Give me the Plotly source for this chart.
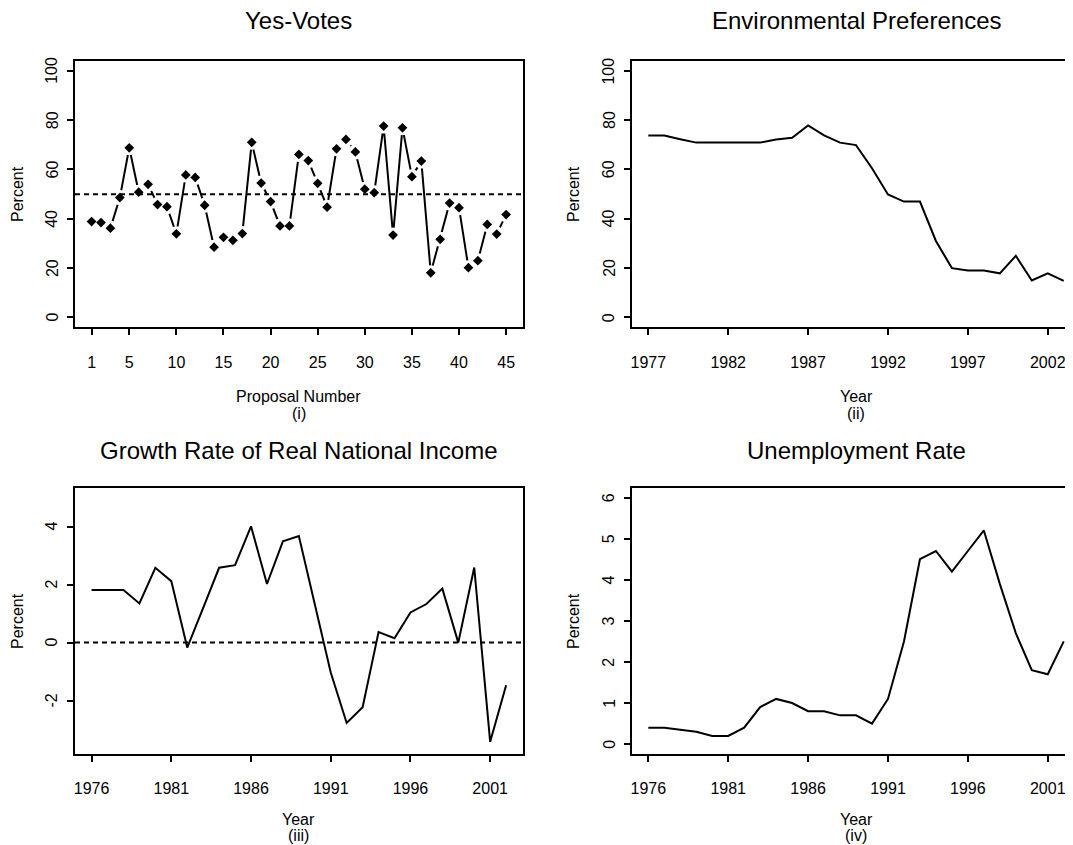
import plotly.graph_objects as go

# ---------------- data ----------------
proposal_number = list(range(1, 46))
yes_votes = [38.9, 38.5, 36.2, 48.6, 68.8, 50.8, 54.0, 45.8, 44.9, 33.9,
             57.8, 56.8, 45.5, 28.5, 32.5, 31.3, 34.0, 71.0, 54.5, 47.0,
             37.1, 37.1, 66.1, 63.6, 54.4, 44.7, 68.4, 72.2, 67.1, 52.0,
             50.6, 77.6, 33.4, 76.9, 57.1, 63.4, 18.1, 31.7, 46.4, 44.5,
             20.2, 23.0, 37.7, 33.8, 41.7]

env_years = list(range(1977, 2004))
env_pref = [73.8, 73.8, 72.3, 70.9, 70.9, 70.9, 70.9, 70.9, 72.2, 72.9,
            77.9, 73.8, 70.9, 69.9, 60.5, 49.9, 47.0, 47.0, 31.0, 20.0,
            19.0, 19.0, 17.9, 25.0, 15.0, 17.9, 14.8]

growth_years = list(range(1976, 2003))
growth = [1.81, 1.81, 1.81, 1.35, 2.58, 2.12, -0.17, 1.2, 2.58, 2.67,
          4.01, 2.02, 3.49, 3.67, 1.3, -1.03, -2.77, -2.23, 0.36, 0.15,
          1.04, 1.33, 1.86, 0.0, 2.59, -3.42, -1.47]

unemp_years = list(range(1976, 2003))
unemp = [0.4, 0.4, 0.35, 0.3, 0.2, 0.2, 0.4, 0.9, 1.1, 1.0,
         0.8, 0.8, 0.7, 0.7, 0.5, 1.1, 2.5, 4.5, 4.7, 4.2,
         4.7, 5.2, 3.9, 2.7, 1.8, 1.7, 2.5]

x1_ticks = [1, 5, 10, 15, 20, 25, 30, 35, 40, 45]
x2_ticks = [1977, 1982, 1987, 1992, 1997, 2002]
x34_ticks = [1976, 1981, 1986, 1991, 1996, 2001]
y12_ticks = [0, 20, 40, 60, 80, 100]
y12_labels = ["0", "20", "40", "60", "80", "100"]
y3_ticks = [-2, 0, 2, 4]
y3_labels = ["-2", "0", "2", "4"]
y4_ticks = [0, 1, 2, 3, 4, 5, 6]
y4_labels = ["0", "1", "2", "3", "4", "5", "6"]

titles = ["Yes-Votes", "Environmental Preferences",
          "Growth Rate of Real National Income", "Unemployment Rate"]
xlabels = ["Proposal Number", "Year", "Year", "Year"]
sublabels = ["(i)", "(ii)", "(iii)", "(iv)"]

# ---------------- layout helpers ----------------
# the page places the figure 8px from the window corner (body margin)
OX, OY = 8, 8
W, H = 1073 - OX, 845 - OY
FONT = "Liberation Sans, Arial, Helvetica, sans-serif"


def px(x):
    """screen x pixel -> paper fraction"""
    return (x - OX) / W


def py(y):
    """screen y pixel -> paper fraction"""
    return 1 - (y - OY) / H


LEFT_AX, RIGHT_AX = 75, 631.7
LX = [px(LEFT_AX), px(522.7)]
RX = [px(RIGHT_AX), 1.0]
TY = [py(327.3), py(61)]
BY = [py(754), py(487.7)]

fig = go.Figure()

# Panel 1: line with gaps (white halo markers) and diamonds
fig.add_trace(go.Scatter(x=proposal_number, y=yes_votes, mode="lines",
                         line=dict(color="black", width=2),
                         xaxis="x", yaxis="y", showlegend=False))
fig.add_trace(go.Scatter(x=proposal_number, y=yes_votes, mode="markers",
                         marker=dict(symbol="circle", size=15, color="white"),
                         xaxis="x", yaxis="y", showlegend=False))
fig.add_trace(go.Scatter(x=proposal_number, y=yes_votes, mode="markers",
                         marker=dict(symbol="diamond", size=7.5, color="black"),
                         xaxis="x", yaxis="y", showlegend=False))

fig.add_trace(go.Scatter(x=env_years, y=env_pref, mode="lines",
                         line=dict(color="black", width=2),
                         xaxis="x2", yaxis="y2", showlegend=False))
fig.add_trace(go.Scatter(x=growth_years, y=growth, mode="lines",
                         line=dict(color="black", width=2),
                         xaxis="x3", yaxis="y3", showlegend=False))
fig.add_trace(go.Scatter(x=unemp_years, y=unemp, mode="lines",
                         line=dict(color="black", width=2),
                         xaxis="x4", yaxis="y4", showlegend=False))

# reference dashed lines
fig.add_shape(type="line", xref="x domain", yref="y", x0=0, x1=1, y0=50, y1=50,
              line=dict(color="black", width=2, dash="5px,4px"), layer="above")
fig.add_shape(type="line", xref="x3 domain", yref="y3", x0=0, x1=1, y0=0, y1=0,
              line=dict(color="black", width=2, dash="5px,4px"), layer="above")

common = dict(showline=True, linecolor="black", linewidth=2, ticks="outside",
              ticklen=6, tickwidth=2, tickcolor="black", showgrid=False,
              zeroline=False, tickfont=dict(family=FONT, size=16, color="black"))

xstand = 13

fig.update_layout(
    width=W, height=H,
    margin=dict(l=0, r=0, t=0, b=0),
    paper_bgcolor="white", plot_bgcolor="white",
    font=dict(family=FONT, color="black"),
    xaxis=dict(domain=LX, anchor="y", range=[-0.76, 46.76], tickvals=x1_ticks,
               mirror=True, ticklabelstandoff=xstand, **common),
    yaxis=dict(domain=TY, anchor="x", range=[-4, 104], tickvals=y12_ticks,
               mirror=True, showticklabels=False, **common),
    xaxis2=dict(domain=RX, anchor="y2", range=[1975.96, 2003.58], tickvals=x2_ticks,
                mirror=True, ticklabelstandoff=xstand, **common),
    yaxis2=dict(domain=TY, anchor="x2", range=[-4, 104], tickvals=y12_ticks,
                mirror=False, showticklabels=False, **common),
    xaxis3=dict(domain=LX, anchor="y3", range=[1974.96, 2003.04], tickvals=x34_ticks,
                mirror=True, ticklabelstandoff=xstand, **common),
    yaxis3=dict(domain=BY, anchor="x3", range=[-3.84, 5.34], tickvals=y3_ticks,
                mirror=True, showticklabels=False, **common),
    xaxis4=dict(domain=RX, anchor="y4", range=[1974.96, 2002.58], tickvals=x34_ticks,
                mirror=True, ticklabelstandoff=xstand, **common),
    yaxis4=dict(domain=BY, anchor="x4", range=[-0.24, 6.24], tickvals=y4_ticks,
                mirror=False, showticklabels=False, **common),
)

# text annotations (screen pixel positions)
centers_x = [298.9, 856, 298.9, 856]
title_y = [20, 20, 450, 450]
xlab_y = [396, 396, 819, 819]
sub_y = [413, 413, 835, 835]
percent_x = [17, 573, 17, 573]
percent_y = [194, 194, 621, 621]

ann = []
for i in range(4):
    ann.append(dict(text=titles[i], x=px(centers_x[i]), y=py(title_y[i]),
                    xref="paper", yref="paper", showarrow=False,
                    xanchor="center", yanchor="middle",
                    font=dict(family=FONT, size=24, color="black")))
    ann.append(dict(text=xlabels[i], x=px(centers_x[i]), y=py(xlab_y[i]),
                    xref="paper", yref="paper", showarrow=False,
                    xanchor="center", yanchor="middle",
                    font=dict(family=FONT, size=16, color="black")))
    ann.append(dict(text=sublabels[i], x=px(centers_x[i]), y=py(sub_y[i]),
                    xref="paper", yref="paper", showarrow=False,
                    xanchor="center", yanchor="middle",
                    font=dict(family=FONT, size=16, color="black")))
    ann.append(dict(text="Percent", x=px(percent_x[i]), y=py(percent_y[i]),
                    xref="paper", yref="paper", showarrow=False, textangle=-90,
                    xanchor="center", yanchor="middle",
                    font=dict(family=FONT, size=16, color="black")))

# rotated y tick labels (R style: parallel to the axis), placed on the axis scale
ytick_sets = [("y", y12_ticks, y12_labels, LEFT_AX),
              ("y2", y12_ticks, y12_labels, RIGHT_AX),
              ("y3", y3_ticks, y3_labels, LEFT_AX),
              ("y4", y4_ticks, y4_labels, RIGHT_AX)]
for yref, vals, labs, axx in ytick_sets:
    for v, lab in zip(vals, labs):
        ann.append(dict(text=lab, x=px(axx - 23), y=v, xref="paper", yref=yref,
                        showarrow=False, textangle=-90,
                        xanchor="center", yanchor="middle",
                        font=dict(family=FONT, size=16, color="black")))

fig.update_layout(annotations=ann)

fig.write_html("out.html")
